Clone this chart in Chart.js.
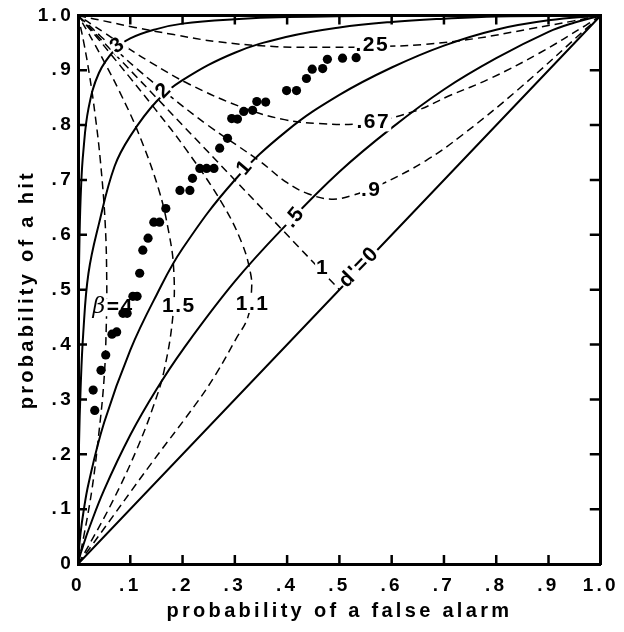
<!DOCTYPE html>
<html>
<head>
<meta charset="utf-8">
<script src="https://cdn.jsdelivr.net/npm/chart.js@4.4.1/dist/chart.umd.min.js"></script>
<style>
  html, body { margin: 0; padding: 0; background: #fff; }
  canvas { display: block; }
</style>
</head>
<body>
<canvas id="roc" width="624" height="632" role="img"
  aria-label="ROC space: hit probability against false alarm probability, with d' curves, iso-beta curves and observed points"></canvas>
<script>
// tick labels
const xTickLabels = ['0', '.1', '.2', '.3', '.4', '.5', '.6', '.7', '.8', '.9', '1.0']
const yTickLabels = ['0', '.1', '.2', '.3', '.4', '.5', '.6', '.7', '.8', '.9', '1.0']

// observed points: false alarm rate / hit rate
const obsFalseAlarm = [0.032, 0.029, 0.044, 0.053, 0.065, 0.074, 0.086, 0.094, 0.105, 0.113,
  0.118, 0.124, 0.134, 0.145, 0.156, 0.168, 0.195, 0.214, 0.219, 0.233, 0.246, 0.26,
  0.271, 0.286, 0.294, 0.305, 0.317, 0.334, 0.342, 0.359, 0.399, 0.418, 0.437, 0.448,
  0.468, 0.477, 0.506, 0.532]
const obsHit = [0.28, 0.317, 0.353, 0.381, 0.419, 0.423, 0.457, 0.457, 0.488, 0.488,
  0.53, 0.572, 0.594, 0.623, 0.623, 0.648, 0.681, 0.681, 0.703, 0.721, 0.721, 0.721,
  0.758, 0.776, 0.812, 0.811, 0.825, 0.827, 0.843, 0.842, 0.863, 0.863, 0.885, 0.902,
  0.903, 0.92, 0.922, 0.923]

// ROC curves (solid), [false alarm, hit]
const rocD0 = [[0, 0], [1, 1]]
const rocD05 = [[0, 0], [0.001, 0.005], [0.005, 0.019], [0.01, 0.034], [0.02, 0.062], [0.05, 0.135],
  [0.1, 0.235], [0.15, 0.318], [0.2, 0.39], [0.3, 0.515], [0.4, 0.62], [0.5, 0.715], [0.6, 0.795],
  [0.7, 0.865], [0.8, 0.922], [0.9, 0.97], [0.95, 0.987], [1, 1]]
const rocD1 = [[0, 0], [0.001, 0.018], [0.005, 0.057], [0.01, 0.092], [0.02, 0.146], [0.05, 0.258],
  [0.1, 0.39], [0.15, 0.49], [0.2, 0.575], [0.3, 0.7], [0.4, 0.79], [0.5, 0.855], [0.6, 0.905],
  [0.7, 0.945], [0.8, 0.974], [0.9, 0.991], [1, 1]]
const rocD2 = [[0, 0], [0.0005, 0.1], [0.002, 0.22], [0.005, 0.32], [0.01, 0.42], [0.02, 0.53],
  [0.04, 0.62], [0.07, 0.725], [0.1, 0.78], [0.15, 0.843], [0.2, 0.882], [0.3, 0.932], [0.4, 0.961],
  [0.5, 0.978], [0.6, 0.988], [0.7, 0.994], [0.8, 0.998], [1, 1]]
const rocD3 = [[0, 0], [0.00001, 0.1], [0.0001, 0.24], [0.0005, 0.39], [0.001, 0.47], [0.003, 0.6],
  [0.006, 0.69], [0.01, 0.75], [0.02, 0.83], [0.04, 0.895], [0.07, 0.937], [0.1, 0.958], [0.15, 0.975],
  [0.2, 0.985], [0.3, 0.993], [0.4, 0.997], [0.6, 0.9995], [1, 1]]

// iso-bias curves (dashed)
const beta4 = [[0, 0], [0.0015, 0.006], [0.0114, 0.052], [0.027, 0.138], [0.04, 0.239], [0.05, 0.339],
  [0.054, 0.431], [0.055, 0.514], [0.052, 0.621], [0.043, 0.733], [0.033, 0.817], [0.022, 0.891],
  [0.011, 0.951], [0.003, 0.987], [0.0007, 0.997], [0, 1]]
const beta15 = [[0, 0], [0.0167, 0.027], [0.0666, 0.115], [0.112, 0.208], [0.144, 0.287], [0.165, 0.354],
  [0.182, 0.457], [0.183, 0.538], [0.174, 0.603], [0.154, 0.684], [0.115, 0.787], [0.079, 0.862],
  [0.051, 0.914], [0.031, 0.949], [0.018, 0.971], [0.005, 0.992], [0, 1]]
const beta11 = [[0, 0], [0.025, 0.032], [0.14, 0.183], [0.228, 0.295], [0.265, 0.348], [0.302, 0.41],
  [0.325, 0.45], [0.332, 0.5], [0.33, 0.53], [0.3135, 0.585], [0.276, 0.657], [0.208, 0.754],
  [0.147, 0.83], [0.099, 0.887], [0.063, 0.929], [0.038, 0.958], [0.0215, 0.976], [0.006, 0.993], [0, 1]]
const beta1 = [[0, 1], [0.5, 0.5]]
const beta09 = [[1, 1], [0.981, 0.9835], [0.842, 0.865], [0.735, 0.782], [0.665, 0.735], [0.58, 0.692],
  [0.525, 0.672], [0.4845, 0.665], [0.44, 0.675], [0.4, 0.695], [0.3465, 0.735], [0.248, 0.8],
  [0.172, 0.856], [0.1135, 0.902], [0.0715, 0.938], [0.0427, 0.9625], [0.0242, 0.979], [0.0066, 0.994], [0, 1]]
const beta067 = [[1, 1], [0.9713, 0.982], [0.882, 0.931], [0.7885, 0.885], [0.709, 0.853], [0.643, 0.825],
  [0.54, 0.803], [0.46, 0.803], [0.395, 0.81], [0.315, 0.832], [0.212, 0.875], [0.138, 0.915],
  [0.086, 0.946], [0.051, 0.968], [0.029, 0.982], [0.008, 0.995], [0, 1]]
const beta025 = [[1, 1], [0.9942, 0.9987], [0.9484, 0.99], [0.862, 0.975], [0.761, 0.958], [0.661, 0.947],
  [0.569, 0.943], [0.486, 0.942], [0.38, 0.943], [0.267, 0.952], [0.183, 0.965], [0.109, 0.978],
  [0.049, 0.99], [0.013, 0.997], [0, 1]]

// text placed on the curves (data coords)
const curveLabels = [
  { parts: ['3'], x: 0.076, y: 0.945, rot: -35 },
  { parts: ['2'], x: 0.164, y: 0.863, rot: -45 },
  { parts: ['1'], x: 0.319, y: 0.723, rot: -50 },
  { parts: ['.5'], x: 0.414, y: 0.632, rot: -50 },
  { parts: ["d'=0"], x: 0.538, y: 0.541, rot: -46 },
  { parts: ['1'], x: 0.468, y: 0.539, rot: 0 },
  { parts: ['.9'], x: 0.561, y: 0.681, rot: 0 },
  { parts: ['.67'], x: 0.565, y: 0.805, rot: 0 },
  { parts: ['.25'], x: 0.563, y: 0.945, rot: 0 },
  { parts: ['1.5'], x: 0.193, y: 0.47, rot: 0 },
  { parts: ['1.1'], x: 0.334, y: 0.474, rot: 0 },
  { parts: ['β', '=4'], x: 0.067, y: 0.468, rot: 0 }
]

const FONT = '"Liberation Sans", Arial, Helvetica, sans-serif'
const toXY = arr => arr.map(p => ({ x: p[0], y: p[1] }))

function curve(arr, dashed) {
  return {
    data: toXY(arr),
    showLine: true,
    borderColor: '#000',
    borderWidth: dashed ? 1.5 : 2,
    borderDash: dashed ? [8, 5] : [],
    pointRadius: 0,
    tension: 0.4,
    fill: false
  }
}

const obsPoints = {
  data: obsFalseAlarm.map((f, i) => ({ x: f, y: obsHit[i] })),
  showLine: false,
  pointRadius: 4.6,
  pointBackgroundColor: '#000',
  pointBorderWidth: 0
}

const spacing = {
  id: 'spacing',
  beforeDraw(chart) { chart.ctx.letterSpacing = '3.3px' },
  afterDraw(chart) { chart.ctx.letterSpacing = '0px' }
}

// tick marks pointing into the plot on all four sides
const innerTicks = {
  id: 'innerTicks',
  afterDraw(chart) {
    const { ctx, chartArea: a, scales } = chart
    const len = 9
    ctx.save()
    ctx.strokeStyle = '#000'
    ctx.lineWidth = 2.5
    ctx.beginPath()
    scales.x.ticks.forEach(t => {
      if (t.value <= 0 || t.value >= 1) return
      const px = scales.x.getPixelForValue(t.value)
      ctx.moveTo(px, a.bottom); ctx.lineTo(px, a.bottom - len)
      ctx.moveTo(px, a.top); ctx.lineTo(px, a.top + len)
    })
    scales.y.ticks.forEach(t => {
      if (t.value <= 0 || t.value >= 1) return
      const py = scales.y.getPixelForValue(t.value)
      ctx.moveTo(a.left, py); ctx.lineTo(a.left + len, py)
      ctx.moveTo(a.right, py); ctx.lineTo(a.right - len - 2, py)
    })
    ctx.stroke()
    ctx.restore()
  }
}

// curve labels go under the observed points (dataset 0 is drawn last)
const labels = {
  id: 'labels',
  beforeDatasetDraw(chart, args) {
    if (args.index !== 0) return
    const { ctx, scales } = chart
    ctx.save()
    ctx.letterSpacing = '1.5px'
    curveLabels.forEach(l => {
      const px = scales.x.getPixelForValue(l.x)
      const py = scales.y.getPixelForValue(l.y)
      const fonts = l.parts.map(p => p === 'β' ? 'italic 22px "DejaVu Serif", serif' : 'bold 21px ' + FONT)
      const widths = l.parts.map((p, i) => { ctx.font = fonts[i]; return ctx.measureText(p).width })
      const w = widths.reduce((s, v) => s + v, 0)
      ctx.save()
      ctx.translate(px, py)
      ctx.rotate(l.rot * Math.PI / 180)
      ctx.fillStyle = '#fff'
      ctx.fillRect(-w / 2 - 1, -9, w + 2, 18)
      ctx.fillStyle = '#000'
      ctx.textAlign = 'left'
      ctx.textBaseline = 'middle'
      let cx = -w / 2
      l.parts.forEach((p, i) => {
        ctx.font = fonts[i]
        ctx.fillText(p, cx, 0)
        cx += widths[i]
      })
      ctx.restore()
    })
    ctx.restore()
  }
}

const tickFont = { family: FONT, size: 19, weight: 'bold' }
const titleFont = { family: FONT, size: 20, weight: 'bold' }
const frame = { display: true, color: '#000', width: 3 }
const noGrid = { drawOnChartArea: false, drawTicks: false }

new Chart(document.getElementById('roc'), {
  type: 'scatter',
  data: {
    datasets: [
      obsPoints,
      curve(rocD0), curve(rocD05), curve(rocD1), curve(rocD2), curve(rocD3),
      curve(beta4, true), curve(beta15, true), curve(beta11, true), curve(beta1, true),
      curve(beta09, true), curve(beta067, true), curve(beta025, true)
    ]
  },
  options: {
    responsive: false,
    animation: false,
    layout: { padding: 0 },
    plugins: { legend: { display: false }, tooltip: { enabled: false } },
    scales: {
      x: {
        type: 'linear', position: 'bottom', min: 0, max: 1,
        afterFit: s => { s.height = 68 },
        grid: noGrid, border: frame,
        ticks: {
          stepSize: 0.1, padding: 10, color: '#000', font: tickFont,
          maxRotation: 0, autoSkip: false, callback: (v, i) => xTickLabels[i]
        },
        title: {
          display: true, text: 'probability of a false alarm', color: '#000',
          font: titleFont, padding: { top: 0, bottom: 9 }
        }
      },
      xTop: {
        type: 'linear', position: 'top', min: 0, max: 1,
        afterFit: s => { s.height = 14 },
        grid: noGrid, border: frame, ticks: { display: false }
      },
      y: {
        type: 'linear', position: 'left', min: 0, max: 1,
        afterFit: s => { s.width = 78 },
        grid: noGrid, border: frame,
        ticks: {
          stepSize: 0.1, padding: 4, color: '#000', font: tickFont,
          autoSkip: false, callback: (v, i) => yTickLabels[i]
        },
        title: {
          display: true, text: 'probability of a hit', color: '#000',
          font: titleFont, padding: { top: 15, bottom: 0 }
        }
      },
      yRight: {
        type: 'linear', position: 'right', min: 0, max: 1,
        afterFit: s => { s.width = 22 },
        grid: noGrid, border: frame, ticks: { display: false }
      }
    }
  },
  plugins: [spacing, innerTicks, labels]
})
</script>
</body>
</html>
